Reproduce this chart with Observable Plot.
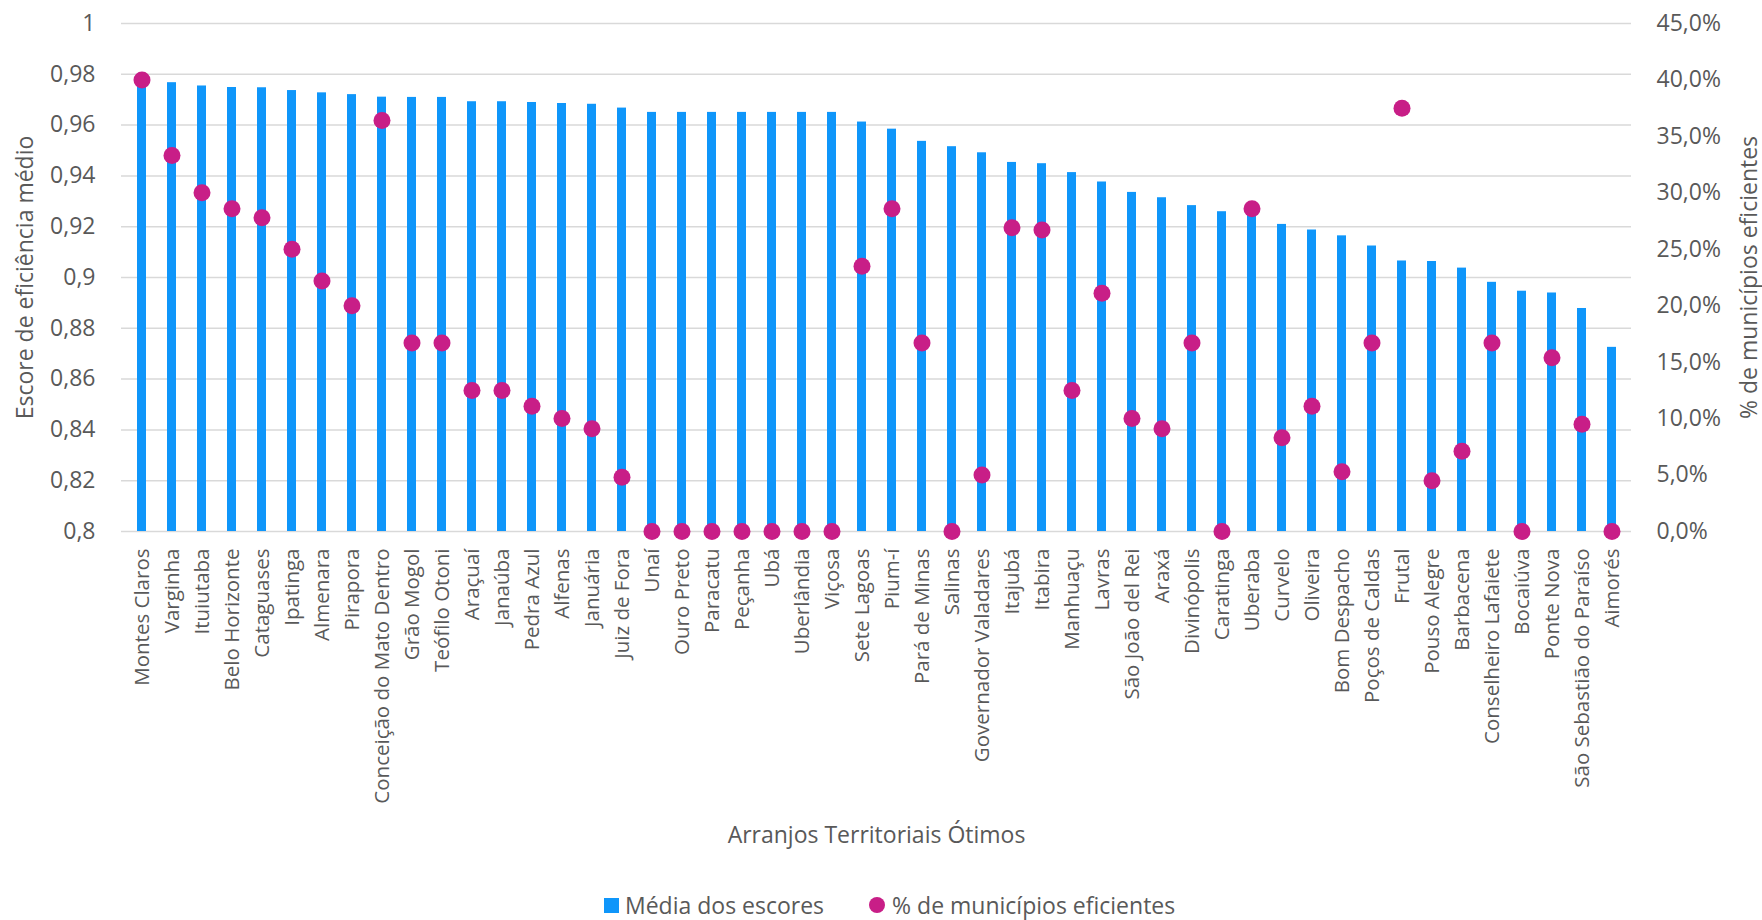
<!DOCTYPE html>
<html lang="pt-BR">
<head>
<meta charset="utf-8">
<script src="https://cdn.jsdelivr.net/npm/d3@7"></script>
<script src="https://cdn.jsdelivr.net/npm/@observablehq/plot@0.6"></script>
<style>
  body { margin: 0; background: #fff; font-family: "Open Sans", sans-serif; color: #595959; }
  #legend { display: flex; align-items: center; height: 30px; margin-left: 604px; font-size: 23px; white-space: nowrap; }
  #legend .sq { width: 15px; height: 15px; background: #0f96fa; margin-right: 6px; }
  #legend .ci { width: 16px; height: 16px; border-radius: 50%; background: #c81e87; margin-left: 45px; margin-right: 7px; }
</style>
</head>
<body>
<div id="chart"></div>
<div id="legend"></div>
<script>
// Arranjos territoriais, ordered by mean efficiency score
const categories = [
  "Montes Claros", "Varginha", "Ituiutaba", "Belo Horizonte", "Cataguases",
  "Ipatinga", "Almenara", "Pirapora", "Conceição do Mato Dentro", "Grão Mogol",
  "Teófilo Otoni", "Araçuaí", "Janaúba", "Pedra Azul", "Alfenas",
  "Januária", "Juiz de Fora", "Unaí", "Ouro Preto", "Paracatu",
  "Peçanha", "Ubá", "Uberlândia", "Viçosa", "Sete Lagoas",
  "Pium-í", "Pará de Minas", "Salinas", "Governador Valadares", "Itajubá",
  "Itabira", "Manhuaçu", "Lavras", "São João del Rei", "Araxá",
  "Divinópolis", "Caratinga", "Uberaba", "Curvelo", "Oliveira",
  "Bom Despacho", "Poços de Caldas", "Frutal", "Pouso Alegre", "Barbacena",
  "Conselheiro Lafaiete", "Bocaiúva", "Ponte Nova", "São Sebastião do Paraíso", "Aimorés"
];

// Média dos escores (left axis)
const meanScores = [
  0.978, 0.9767, 0.9754, 0.9748, 0.9747,
  0.9736, 0.9727, 0.9720, 0.9710, 0.9709,
  0.9709, 0.9692, 0.9692, 0.9689, 0.9685,
  0.9682, 0.9667, 0.9650, 0.9650, 0.9650,
  0.9650, 0.9650, 0.9650, 0.9650, 0.9612,
  0.9584, 0.9536, 0.9515, 0.9491, 0.9453,
  0.9448, 0.9413, 0.9376, 0.9335, 0.9314,
  0.9283, 0.9259, 0.9255, 0.9209, 0.9187,
  0.9164, 0.9124, 0.9065, 0.9063, 0.9037,
  0.8981, 0.8946, 0.8939, 0.8878, 0.8725
];

// % de municípios eficientes (right axis)
const pctEfficient = [
  40.0, 33.3, 30.0, 28.6, 27.8,
  25.0, 22.2, 20.0, 36.4, 16.7,
  16.7, 12.5, 12.5, 11.1, 10.0,
  9.1, 4.8, 0, 0, 0,
  0, 0, 0, 0, 23.5,
  28.6, 16.7, 0, 5.0, 26.9,
  26.7, 12.5, 21.1, 10.0, 9.1,
  16.7, 0, 28.6, 8.3, 11.1,
  5.3, 16.7, 37.5, 4.5, 7.1,
  16.7, 0, 15.4, 9.5, 0
];

// Axis ticks
const leftTicks = [0.8, 0.82, 0.84, 0.86, 0.88, 0.9, 0.92, 0.94, 0.96, 0.98, 1];
const leftTickLabels = ["0,8", "0,82", "0,84", "0,86", "0,88", "0,9", "0,92", "0,94", "0,96", "0,98", "1"];
const rightTicks = [0, 5, 10, 15, 20, 25, 30, 35, 40, 45];
const rightTickLabels = ["0,0%", "5,0%", "10,0%", "15,0%", "20,0%", "25,0%", "30,0%", "35,0%", "40,0%", "45,0%"];

// Text
const seriesNames = ["Média dos escores", "% de municípios eficientes"];
const xTitle = "Arranjos Territoriais Ótimos";
const yLeftTitle = "Escore de eficiência médio";
const yRightTitle = "% de municípios eficientes";

const blue = "#0f96fa";
const magenta = "#c81e87";

// The percentage series shares the y scale: 0–45% maps onto 0.8–1
const [yMin, yMax] = [leftTicks[0], leftTicks[leftTicks.length - 1]];
const pctMax = rightTicks[rightTicks.length - 1];
const toY = p => yMin + (p / pctMax) * (yMax - yMin);

const rows = categories.map((name, i) => ({name, score: meanScores[i], pct: pctEfficient[i]}));

const labelAt = (ticks, labels) => d => {
  const i = ticks.findIndex(t => Math.abs(t - d) < 1e-9);
  return i >= 0 ? labels[i] : "";
};
const rightPositions = rightTicks.map(toY);

const chart = Plot.plot({
  width: 1762,
  height: 890,
  marginTop: 23,
  marginBottom: 359,
  marginLeft: 121,
  marginRight: 131,
  style: {fontFamily: "'Open Sans', sans-serif", fontSize: "23px", color: "#595959", background: "#fff", overflow: "visible"},
  x: {domain: categories, paddingInner: 0.7, paddingOuter: 0.35, label: null},
  y: {domain: [yMin, yMax], label: null},
  marks: [
    Plot.gridY(leftTicks, {stroke: "#d9d9d9", strokeOpacity: 1, strokeWidth: 1.5}),
    Plot.barY(rows, {x: "name", y1: yMin, y2: "score", fill: blue}),
    Plot.dot(rows, {x: "name", y: d => toY(d.pct), r: 8.5, fill: magenta, stroke: null}),
    Plot.axisY(leftTicks, {anchor: "left", tickSize: 0, tickPadding: 26, fontSize: 23,
      tickFormat: labelAt(leftTicks, leftTickLabels), label: null}),
    Plot.axisY(rightPositions, {anchor: "right", tickSize: 0, tickPadding: 25, fontSize: 23,
      tickFormat: labelAt(rightPositions, rightTickLabels), label: null}),
    Plot.axisX({tickRotate: -90, tickSize: 0, tickPadding: 17, fontSize: 20.5, label: null}),
    Plot.text([yLeftTitle], {text: d => d, frameAnchor: "left", textAnchor: "middle", lineAnchor: "middle",
      dx: -96, rotate: -90, fontSize: 23}),
    Plot.text([yRightTitle], {text: d => d, frameAnchor: "right", textAnchor: "middle", lineAnchor: "middle",
      dx: 118, rotate: -90, fontSize: 23}),
    Plot.text([xTitle], {text: d => d, frameAnchor: "bottom", textAnchor: "middle", lineAnchor: "middle",
      dy: 304, fontSize: 23})
  ]
});
document.getElementById("chart").append(chart);

// Legend below the chart
const legend = document.getElementById("legend");
const sq = document.createElement("span"); sq.className = "sq";
const t1 = document.createElement("span"); t1.textContent = seriesNames[0];
const ci = document.createElement("span"); ci.className = "ci";
const t2 = document.createElement("span"); t2.textContent = seriesNames[1];
legend.append(sq, t1, ci, t2);
</script>
</body>
</html>
